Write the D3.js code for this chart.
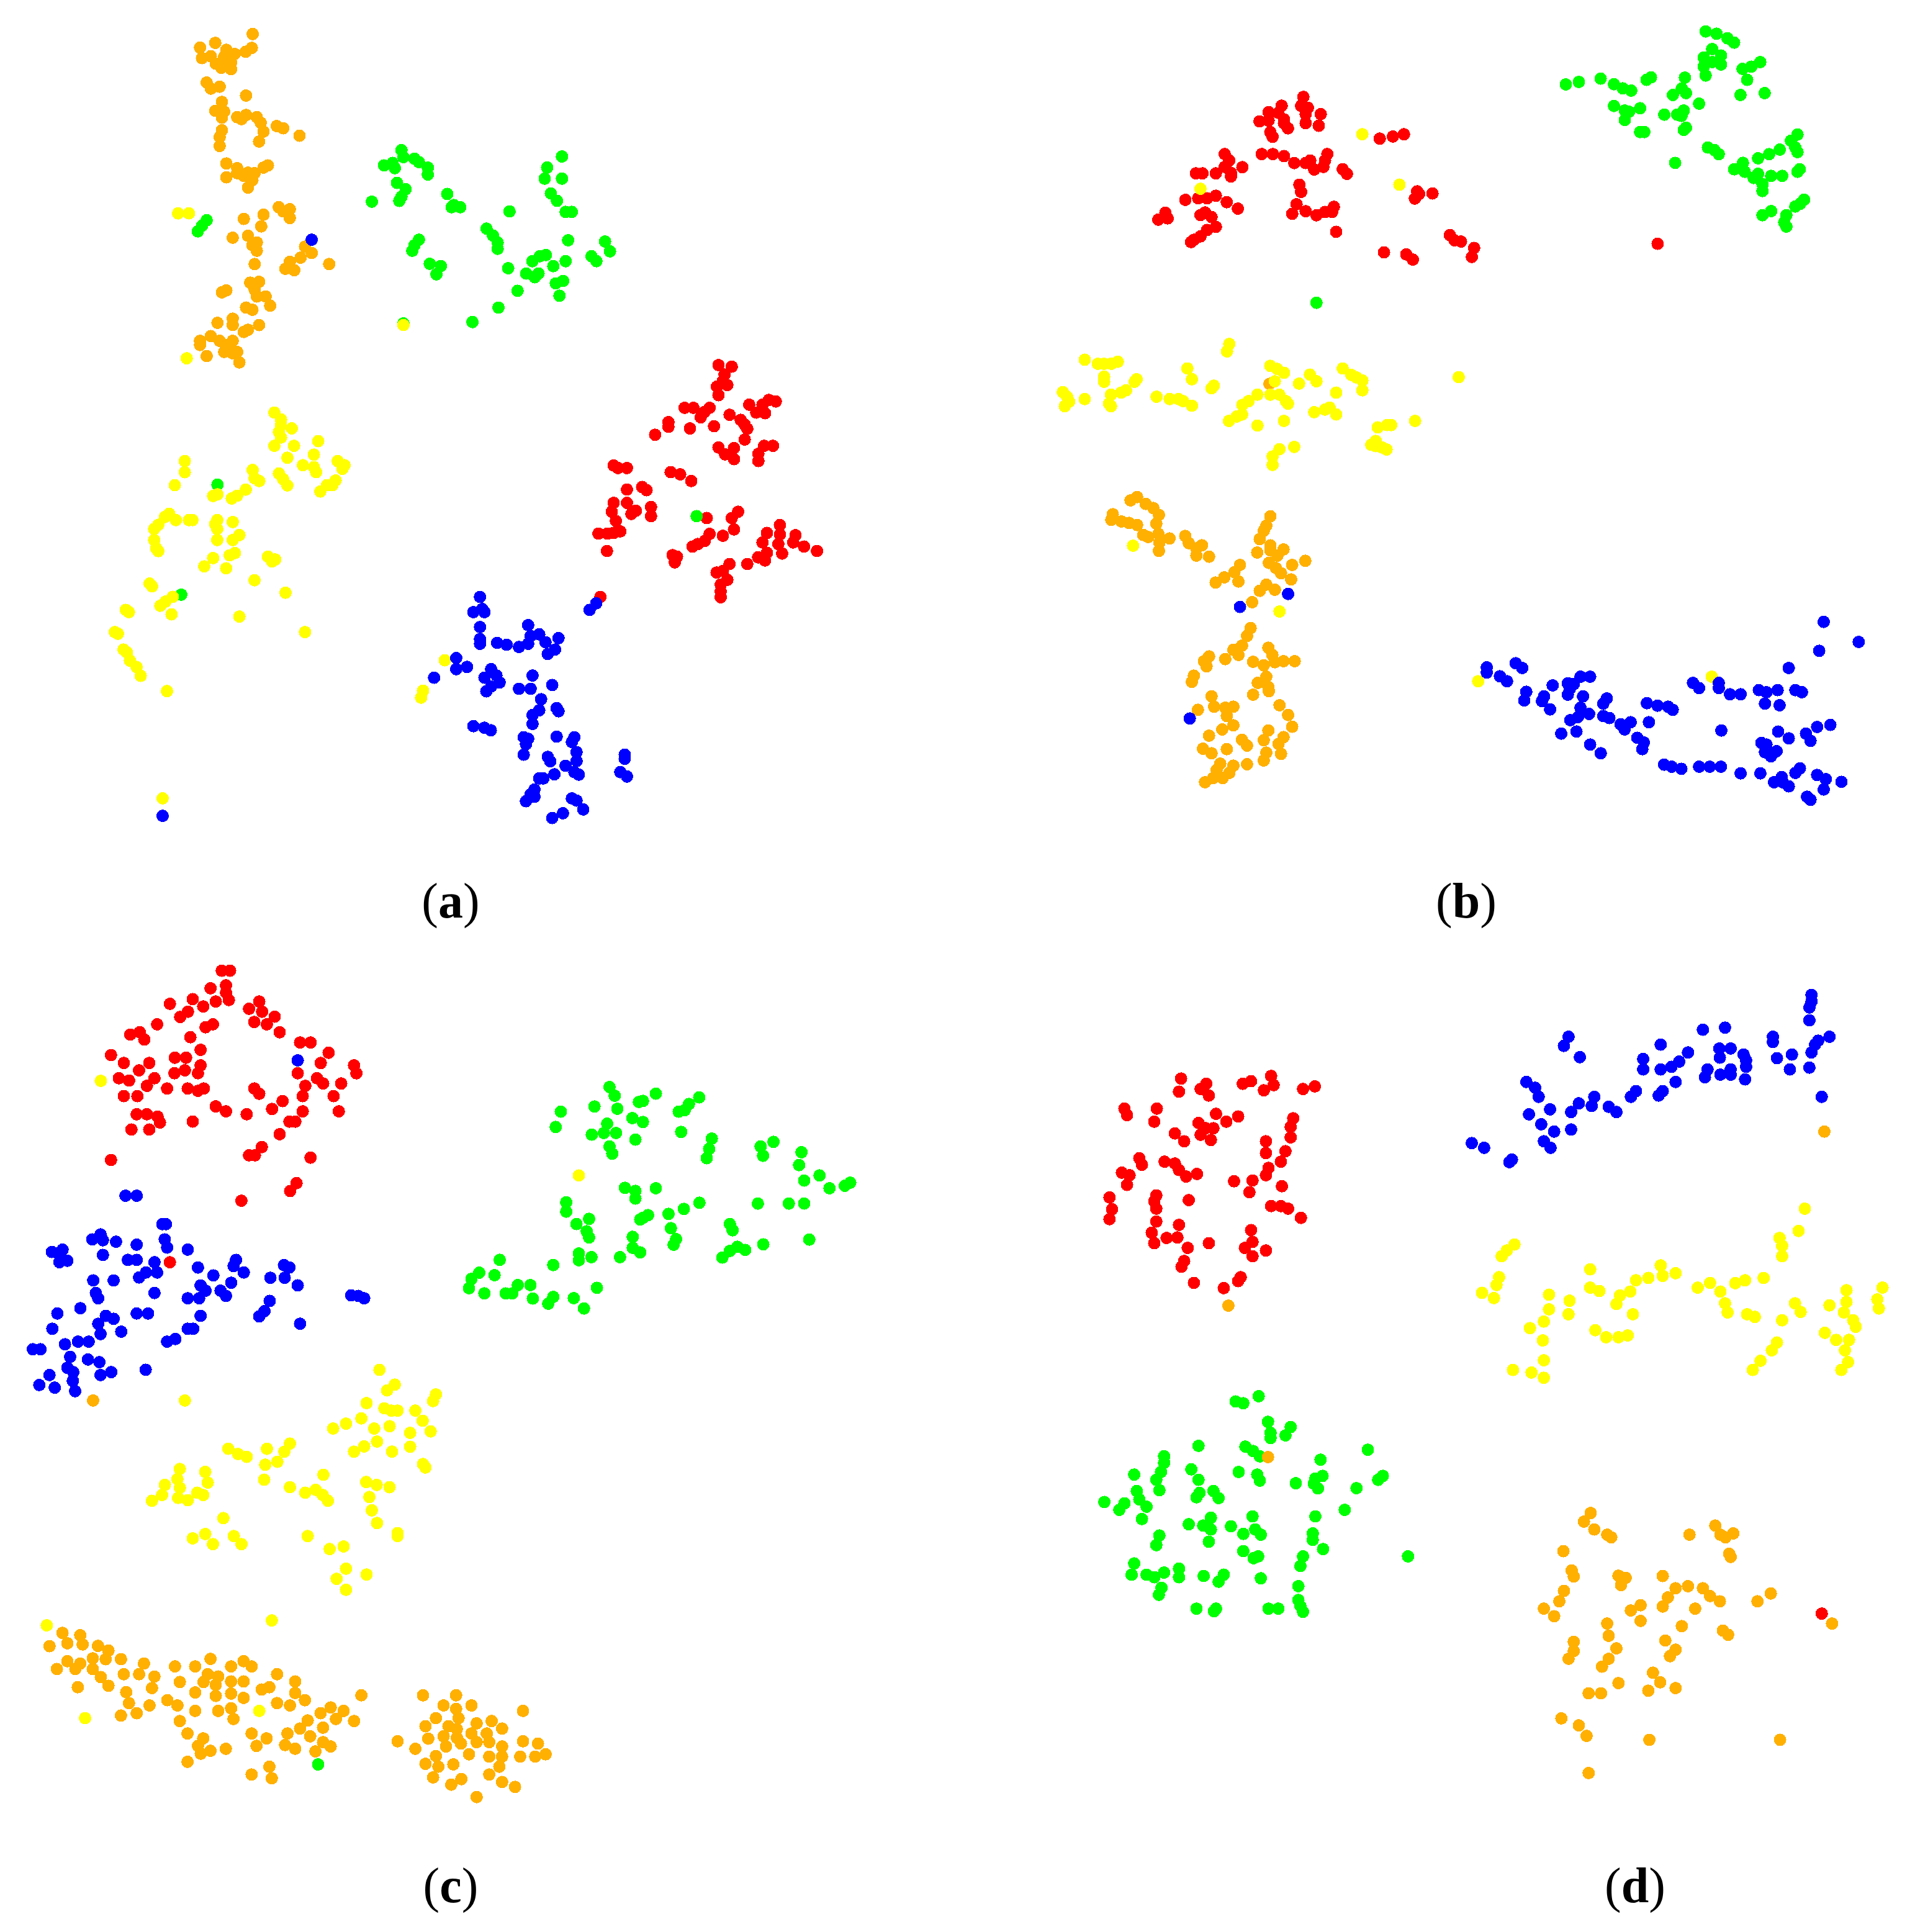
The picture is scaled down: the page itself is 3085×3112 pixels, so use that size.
<!DOCTYPE html>
<html>
<head>
<meta charset="utf-8">
<script src="https://cdn.jsdelivr.net/npm/d3@7"></script>
<style>
  html, body { margin: 0; background: #fff; }
</style>
</head>
<body>
<svg id="chart"></svg>
<script>
const width = 3085, height = 3112;
const RED = "#ff0000", GREEN = "#00ff00", BLUE = "#0000ff", YELLOW = "#ffff00", ORANGE = "#ffb000";

// each list is read off one crop of the picture, so each has its own extent:
// [left, top, width, height, x units, y units]
const whole = [0, 0, 3085, 3112, 1554, 1568];
const a1 = [120, 20, 700, 700, 1568, 1568];
const a2 = [560, 560, 800, 800, 1568, 1568];
const a3 = [160, 640, 500, 700, 1500, 1568];
const b1 = [1680, 130, 720, 650, 1568, 1568];
const b2 = [2400, 30, 560, 400, 1568, 1200];
const b3 = [1760, 780, 1280, 520, 1568, 1560];
const c1 = [30, 1540, 600, 740, 1568, 1568];
const c2 = [730, 1720, 680, 420, 1568, 1260];
const c3 = [40, 2180, 880, 730, 1568, 1568];
const d1 = [1760, 1590, 1300, 660, 1568, 1568];
const d2 = [1760, 2230, 1300, 660, 1568, 1568];

const aOrange = [[643,78],[640,128],[618,142],[508,110],[453,127],[460,165],[492,158],[548,135],[540,160],[578,150],[565,180],[510,185],[530,200],[565,205],[477,253],[492,275],[524,268],[619,300],[532,323],[508,355],[540,358],[532,380],[587,378],[603,385],[619,370],[658,378],[672,398],[682,430],[666,466],[730,410],[753,418],[812,445],[532,425],[524,450],[524,482],[548,545],[587,562],[548,595],[587,580],[611,590],[626,578],[650,580],[642,605],[626,632],[682,560],[698,552],[737,703],[777,710],[753,718],[777,742],[611,745],[682,730],[674,772],[571,813],[626,806],[658,830],[642,840],[658,860],[650,908],[832,845],[856,868],[816,885],[777,900],[761,925],[793,930],[919,908],[666,972],[634,975],[650,1000],[658,1025],[690,1025],[706,1058],[548,1003],[532,1010],[619,1065],[642,1073],[571,1105],[571,1128],[516,1120],[666,1128],[626,1145],[611,1153],[492,1168],[524,1185],[453,1185],[453,1200],[571,1185],[548,1200],[540,1225],[571,1230],[587,1225],[477,1240],[595,1263]];
const aGreen = [[477,750],[460,770],[445,790],[1180,497],[1187,522],[1227,528],[1243,540],[1117,552],[1148,543],[1156,562],[1275,560],[1275,585],[1164,615],[1195,638],[1180,665],[1172,680],[1345,655],[1073,683],[1369,695],[1392,703],[1361,703],[1243,820],[1227,840],[1219,860],[1487,780],[1510,805],[1527,830],[1527,853],[1282,907],[1322,915],[1306,945],[1530,1065],[1436,1117],[1187,1122],[1570,718],[1565,923]];
const aGreenRight = [[444,136],[456,127],[442,145],[456,145],[447,157],[452,163],[459,172],[464,172],[461,195],[443,207],[438,208],[432,212],[449,216],[459,212],[427,222],[434,225],[491,196],[495,204],[480,208],[484,212],[451,230],[457,228],[454,240],[437,222],[420,236]];
const aYellowTop = [[374,725],[413,725],[405,1248],[1187,1128]];
const aBlueTop = [[856,820]];
const aYellow = [[846,55],[878,80],[878,100],[930,112],[868,125],[878,145],[846,175],[941,175],[909,218],[1058,158],[1037,207],[1152,230],[1185,245],[1175,258],[984,245],[1037,252],[1048,270],[868,275],[888,295],[909,318],[741,262],[750,292],[773,302],[1142,300],[1100,317],[1127,317],[1068,340],[708,333],[666,355],[640,365],[413,230],[413,270],[365,317],[571,350],[550,356],[338,420],[317,432],[370,443],[285,460],[265,475],[265,515],[275,545],[285,555],[433,443],[450,443],[570,443],[560,458],[570,475],[570,515],[645,450],[677,497],[645,515],[655,562],[630,570],[550,580],[507,610],[613,617],[815,575],[835,592],[850,585],[750,660],[900,705],[243,672],[255,682],[355,720],[320,737],[295,752],[349,783],[677,791],[128,767],[143,775],[75,847],[90,853],[117,910],[133,920],[148,950],[180,973],[200,1005],[327,1060],[306,1447],[994,847]];
const aGreenLeft = [[571,315],[396,712]];
const aBlueLeft = [[306,1510]];
const aRed = [[1171,55],[1213,60],[1190,85],[1185,105],[1199,118],[1166,123],[1171,150],[1064,190],[1092,190],[1143,190],[1127,203],[1115,220],[1268,180],[1310,180],[1330,165],[1352,170],[1290,205],[1318,207],[1206,212],[1241,228],[1254,243],[1262,256],[1013,235],[1013,250],[1081,255],[1157,248],[971,275],[1254,290],[1171,315],[1192,337],[1220,317],[1220,352],[1343,310],[1315,310],[1297,335],[1297,358],[840,372],[854,380],[882,380],[1020,393],[1050,400],[1085,421],[882,448],[930,440],[944,450],[840,490],[834,518],[847,547],[882,490],[910,515],[896,525],[958,503],[958,532],[1134,538],[1233,518],[1213,538],[1220,574],[1143,588],[1128,610],[1185,594],[1106,620],[1089,628],[1365,560],[1324,585],[1310,615],[1365,590],[1360,620],[1414,592],[1407,615],[1441,628],[1482,642],[1372,650],[1324,648],[1296,662],[1318,672],[1262,683],[861,580],[792,587],[820,587],[840,585],[819,642],[1026,655],[1040,660],[1033,678],[1206,683],[1165,710],[1185,705],[1199,733],[1178,748],[1178,770],[1178,788],[798,787]];
const aGreenInRed = [[1102,532]];
const aBlue = [[785,807],[764,828],[418,787],[397,835],[432,835],[425,825],[418,882],[418,920],[418,935],[570,876],[605,905],[578,910],[625,930],[666,917],[472,932],[502,938],[570,935],[541,945],[655,953],[632,967],[343,980],[377,1008],[343,1015],[453,1015],[432,1042],[470,1035],[480,1057],[453,1070],[438,1085],[273,1042],[584,1035],[541,1077],[578,1077],[646,1065],[611,1110],[605,1145],[584,1160],[660,1138],[666,1148],[584,1188],[397,1195],[432,1200],[452,1208],[556,1230],[570,1235],[563,1252],[660,1228],[716,1230],[708,1245],[556,1285],[632,1292],[640,1306],[723,1277],[723,1305],[688,1320],[875,1285],[875,1298],[861,1340],[882,1354],[653,1347],[605,1360],[618,1360],[716,1340],[730,1348],[590,1395],[578,1410],[590,1418],[563,1432],[708,1423],[723,1430],[744,1458],[680,1470],[646,1485]];
const aYellowInBlue = [[307,987],[238,1083],[232,1105]];

const bRed = [[914,63],[906,98],[930,105],[922,130],[975,130],[838,97],[792,122],[826,125],[760,158],[792,155],[846,150],[860,185],[846,165],[922,165],[968,175],[798,200],[806,218],[1182,225],[1228,217],[1267,208],[638,285],[654,310],[638,335],[700,336],[537,360],[560,360],[607,360],[660,358],[660,372],[768,285],[807,285],[846,293],[998,285],[990,310],[882,320],[938,310],[922,320],[984,335],[952,345],[1052,344],[1067,362],[900,404],[906,432],[1313,430],[1305,458],[1320,440],[1367,438],[500,463],[545,457],[576,457],[607,447],[645,472],[684,497],[430,513],[405,540],[438,535],[553,522],[569,512],[592,530],[607,568],[576,580],[553,605],[530,618],[520,627],[890,480],[875,517],[922,507],[960,523],[990,510],[1021,490],[1015,510],[1029,587],[1197,667],[1275,675],[1298,695],[1428,600],[1444,620],[1467,625],[1513,650],[1505,685]];
const bOrangeUnder = [[795,1178]];
const bYellow = [[1121,208],[553,420],[1251,404],[654,1023],[646,1052],[147,1084],[193,1100],[215,1100],[240,1100],[263,1092],[215,1150],[215,1170],[329,1160],[322,1170],[292,1203],[275,1212],[239,1220],[232,1255],[239,1265],[70,1210],[85,1228],[92,1247],[77,1265],[147,1237],[399,1228],[445,1237],[476,1237],[492,1245],[523,1263],[507,1118],[523,1160],[592,1195],[600,1185],[798,1108],[822,1120],[846,1135],[814,1168],[899,1177],[937,1142],[960,1168],[1052,1118],[1082,1143],[1100,1153],[1121,1165],[1121,1203],[1029,1212],[753,1220],[798,1220],[830,1220],[853,1245],[860,1255],[722,1245],[700,1260],[699,1297],[680,1305],[653,1322],[753,1340],[846,1322],[952,1288],[990,1278],[1006,1270],[1029,1297],[1306,1322],[1459,1152],[1175,1347],[1208,1338],[1222,1338],[1168,1400],[1152,1415],[1168,1420],[1206,1433],[1190,1425],[830,1432],[806,1460],[806,1493],[882,1423]];
const bGreenStray = [[960,863]];
const bGreen = [[974,62],[1023,73],[1072,95],[1102,116],[1003,147],[1043,178],[965,188],[1003,210],[965,232],[1043,222],[974,275],[1140,243],[1180,232],[1220,210],[1161,296],[1131,369],[1240,360],[343,318],[402,306],[500,290],[560,317],[600,337],[638,348],[707,296],[727,284],[880,285],[866,338],[885,360],[826,369],[944,411],[560,422],[609,444],[628,450],[609,490],[678,433],[787,464],[845,464],[875,444],[865,470],[885,527],[875,538],[678,548],[697,548],[984,623],[1013,635],[1033,655],[836,697],[1388,560],[1358,590],[1378,623],[1388,645],[1308,633],[1260,655],[1210,675],[1142,697],[1102,728],[1150,740],[1210,750],[1190,770],[1230,800],[1230,833],[1269,760],[1319,760],[1398,728],[1388,740],[1418,875],[1378,908],[1400,895],[1269,930],[1230,950],[1338,950],[1328,985],[1338,1005]];
const bRedStray = [[757,1088]];
const bOrange = [[88,62],[75,78],[105,95],[120,115],[131,148],[126,190],[40,145],[37,172],[57,180],[72,187],[88,197],[100,245],[110,255],[130,240],[152,262],[132,282],[131,322],[183,250],[190,285],[216,295],[205,310],[205,345],[230,350],[351,155],[343,200],[338,225],[330,265],[351,295],[351,320],[325,330],[377,315],[365,345],[348,380],[362,405],[372,430],[392,460],[394,390],[420,370],[291,390],[280,425],[260,450],[243,475],[288,470],[343,485],[330,515],[360,510],[315,570],[312,695],[305,733],[295,780],[278,800],[288,825],[230,832],[220,855],[225,880],[262,845],[317,858],[347,790],[355,825],[360,860],[377,855],[399,855],[338,875],[343,930],[326,960],[347,980],[317,1017],[348,1000],[200,925],[196,955],[235,1025],[240,1075],[262,1080],[278,1075],[208,1090],[265,1120],[278,1165],[256,1185],[369,1068],[386,1115],[394,1172],[347,1190],[230,1215],[338,1237],[377,1222],[367,1255],[295,1235],[305,1263],[218,1278],[235,1300],[265,1280],[343,1297],[372,1303],[338,1335],[252,1350],[278,1360],[245,1380],[270,1395],[305,1353],[238,1420],[222,1440],[257,1420]];
const bBlue = [[386,530],[291,593],[192,1132],[1443,665],[1512,762],[1434,805],[1374,888],[835,865],[848,888],[778,885],[778,910],[804,928],[818,952],[963,930],[982,930],[908,972],[938,962],[950,965],[942,990],[856,1003],[891,1025],[852,1045],[887,1048],[938,1017],[968,1025],[1015,1035],[1008,1060],[903,1088],[963,1080],[980,1110],[958,1125],[943,1140],[1008,1120],[1020,1130],[1042,1160],[1062,1150],[1050,1185],[1098,1150],[1094,1058],[1115,1070],[1136,1075],[1145,1090],[955,1195],[925,1205],[982,1258],[1003,1300],[1075,1225],[1088,1248],[1085,1280],[1128,1355],[1143,1365],[1162,1375],[1197,1365],[1218,1365],[1240,1365],[1279,1397],[1318,1397],[1185,960],[1197,985],[1236,960],[1236,985],[1258,1015],[1279,1015],[1315,995],[1330,1005],[1352,995],[1387,995],[1400,1005],[1327,1060],[1356,1068],[1241,1190],[1353,1195],[1374,1228],[1430,1173],[1456,1163],[1408,1205],[1417,1240],[1320,1250],[1330,1258],[1327,1295],[1350,1290],[1339,1315],[1396,1373],[1387,1395],[1360,1415],[1345,1440],[1362,1440],[1374,1460],[1430,1405],[1447,1425],[1478,1438],[1443,1475],[1410,1510],[1417,1525]];
const bYellowStray = [[80,297],[369,615],[1222,930],[761,952]];

const cRed = [[855,50],[890,50],[873,100],[873,125],[808,110],[885,150],[830,155],[733,147],[777,172],[637,163],[713,190],[680,208],[1013,155],[970,180],[1025,190],[1078,207],[992,225],[1045,233],[1099,260],[583,233],[818,233],[787,243],[470,268],[510,260],[529,285],[723,277],[766,320],[1185,295],[1229,295],[1305,330],[1272,365],[389,338],[443,365],[550,365],[507,390],[658,347],[705,347],[766,373],[656,400],[700,390],[755,400],[422,417],[465,425],[572,417],[540,443],[1175,400],[1256,417],[1282,435],[1412,373],[1422,400],[1358,435],[1207,443],[1196,478],[1326,478],[625,452],[712,452],[755,460],[780,452],[992,452],[1013,470],[443,478],[500,478],[830,513],[873,530],[1111,495],[1067,522],[1196,530],[1348,530],[960,540],[497,540],[540,540],[585,548],[595,568],[475,592],[550,592],[733,565],[1165,565],[1140,565],[1099,608],[1024,652],[970,680],[995,680],[389,696],[1229,688],[1170,775],[1143,802],[938,835],[637,1045]];
const cBlue = [[1175,356],[450,818],[497,818],[605,915],[620,915],[345,950],[310,967],[355,970],[410,975],[497,985],[615,967],[625,995],[712,1002],[185,1002],[140,1010],[165,1015],[205,1040],[172,1045],[355,1020],[460,1037],[497,1037],[572,1045],[536,1080],[507,1097],[583,1080],[755,1063],[820,1090],[915,1037],[905,1058],[948,1080],[1117,1055],[1140,1063],[1060,1098],[1120,1098],[1175,1124],[314,1107],[400,1107],[325,1150],[335,1168],[572,1150],[766,1124],[787,1142],[895,1115],[850,1142],[873,1160],[712,1168],[760,1168],[260,1202],[163,1220],[1057,1177],[1035,1212],[1013,1230],[1185,1255],[367,1228],[400,1238],[335,1255],[497,1220],[545,1220],[766,1228],[142,1272],[345,1290],[432,1282],[712,1272],[735,1272],[660,1307],[625,1316],[195,1325],[250,1316],[295,1316],[60,1342],[92,1342],[217,1368],[292,1377],[340,1386],[205,1405],[230,1420],[345,1430],[390,1420],[535,1412],[130,1430],[87,1464],[152,1473],[228,1450],[238,1485],[1400,1158],[1455,1168],[1430,1160]];
const cYellowStray = [[346,426],[700,1517]];
const cGreen = [[581,93],[600,135],[610,198],[525,187],[400,212],[381,286],[753,125],[705,160],[690,165],[914,143],[876,175],[838,212],[860,205],[666,243],[705,262],[847,310],[572,270],[515,323],[560,315],[605,315],[677,347],[581,380],[591,415],[961,342],[951,392],[942,437],[1190,358],[1142,380],[1151,425],[1294,408],[1285,470],[1304,545],[1361,520],[1398,582],[1475,555],[1455,570],[638,580],[677,595],[677,632],[753,582],[420,650],[420,695],[505,730],[458,755],[496,790],[505,820],[705,725],[724,712],[695,733],[800,706],[915,652],[857,682],[1028,755],[1038,785],[1132,656],[1247,656],[1304,656],[809,775],[828,828],[819,855],[667,817],[667,870],[695,892],[467,897],[467,930],[514,915],[620,915],[1152,853],[1323,830],[1056,865],[1085,880],[1028,885],[1000,917],[173,928],[372,953],[97,990],[154,1002],[68,1020],[59,1065],[116,1090],[240,1050],[287,1050],[195,1090],[220,1090],[296,1115],[534,1063],[372,1107],[353,1140],[448,1113],[486,1163]];
const cYellowInGreen = [[467,520]];
const cYellow = [[1018,57],[1062,108],[1040,128],[1180,142],[1172,165],[981,172],[1032,190],[1052,198],[1070,198],[1121,198],[1142,233],[1165,270],[966,225],[922,243],[885,260],[1003,260],[1047,252],[1106,275],[1106,323],[1011,305],[974,322],[945,340],[1054,340],[1143,383],[1150,395],[761,312],[745,340],[725,375],[695,330],[690,385],[584,330],[612,348],[637,358],[857,420],[687,437],[761,463],[805,482],[835,472],[855,490],[870,510],[980,445],[1010,455],[1047,463],[989,497],[996,543],[1011,587],[1070,622],[1070,632],[812,632],[570,570],[518,625],[482,640],[540,660],[600,632],[622,660],[445,400],[438,435],[445,465],[518,410],[525,447],[402,455],[394,490],[365,510],[440,500],[468,508],[495,482],[512,490],[875,677],[915,668],[922,745],[895,780],[922,818],[981,765],[709,924],[63,941],[673,1237],[173,1262]];
const cOrange = [[196,163],[108,967],[122,1003],[159,975],[166,1007],[71,1013],[210,1012],[240,1028],[122,1065],[159,1073],[92,1092],[145,1092],[195,1055],[232,1058],[276,1058],[342,1073],[328,1110],[284,1110],[195,1092],[218,1120],[240,1150],[152,1155],[372,1118],[365,1158],[291,1172],[299,1210],[321,1245],[276,1253],[358,1218],[409,1200],[438,1218],[431,1083],[489,1083],[533,1057],[592,1083],[628,1065],[651,1083],[445,1137],[525,1110],[555,1118],[513,1137],[548,1147],[592,1135],[628,1135],[489,1173],[548,1185],[592,1177],[628,1192],[680,1163],[702,1155],[724,1110],[776,1135],[776,1175],[804,1200],[724,1210],[761,1218],[489,1237],[555,1237],[592,1228],[599,1265],[445,1272],[467,1315],[512,1332],[497,1358],[533,1375],[505,1385],[467,1413],[577,1368],[651,1315],[694,1332],[665,1358],[702,1430],[709,1470],[651,1457],[754,1315],[747,1355],[776,1368],[790,1298],[812,1270],[819,1325],[856,1295],[856,1345],[878,1360],[834,1377],[849,1245],[878,1225],[893,1265],[915,1237],[945,1272],[966,1183],[1143,1183],[1238,1183],[1202,1218],[1282,1218],[1238,1230],[1430,1237],[1180,1262],[1150,1290],[1245,1262],[1297,1280],[1340,1272],[1370,1298],[1216,1290],[1240,1300],[1202,1325],[1240,1330],[1282,1315],[1326,1315],[1158,1333],[1070,1342],[1121,1368],[1209,1360],[1252,1350],[1297,1345],[1333,1345],[1370,1360],[1430,1342],[1473,1350],[1275,1387],[1180,1393],[1333,1395],[1370,1395],[1422,1395],[1465,1395],[1495,1387],[1150,1420],[1187,1430],[1230,1422],[1362,1430],[1172,1467],[1333,1457],[1370,1483],[1407,1500],[1253,1473],[1224,1492],[1297,1535]];
const cGreenStray = [[842,1422]];

const dRed = [[172,350],[168,400],[221,370],[210,390],[226,415],[292,370],[308,360],[347,340],[352,375],[333,395],[409,390],[432,380],[62,465],[67,490],[125,465],[120,515],[240,485],[283,495],[260,515],[206,520],[220,540],[235,540],[210,565],[230,585],[390,502],[385,535],[385,575],[160,560],[178,590],[337,590],[337,635],[375,628],[366,668],[91,655],[96,680],[140,668],[160,675],[168,700],[182,725],[203,715],[57,710],[72,720],[67,757],[342,692],[337,720],[275,743],[311,740],[305,785],[368,762],[33,805],[38,850],[33,888],[124,797],[120,820],[124,848],[124,897],[187,815],[347,838],[366,838],[380,848],[405,883],[168,910],[115,940],[120,980],[144,960],[165,958],[185,998],[226,980],[308,930],[311,975],[296,998],[311,1030],[337,1008],[178,1048],[173,1070],[288,1110],[283,1125],[197,1132],[255,1152]];
const dOrangeTop = [[264,1219],[1422,553]];
const dBlue = [[1397,30],[1397,55],[1393,78],[1393,127],[1186,163],[1229,155],[925,190],[916,225],[947,268],[1104,220],[1157,250],[1322,190],[1322,210],[1432,190],[1410,205],[1404,220],[1397,250],[1218,235],[1240,235],[1265,258],[1270,280],[1270,305],[1219,270],[1070,275],[1070,315],[1140,285],[1125,305],[1104,315],[1195,315],[1190,345],[1220,335],[1240,335],[1240,315],[1268,353],[1330,272],[1359,258],[1355,315],[1393,308],[1133,363],[843,363],[860,385],[867,420],[1056,398],[1046,420],[1108,398],[1100,415],[1417,420],[975,420],[945,445],[970,455],[930,478],[1003,458],[1018,478],[889,468],[848,487],[872,525],[897,553],[930,545],[877,590],[890,615],[737,597],[761,615],[815,660],[810,670]];
const dYellow = [[1384,848],[1372,933],[1335,960],[1340,990],[1340,1030],[820,985],[805,1008],[795,1030],[967,1080],[1104,1065],[1108,1105],[1133,1095],[1080,1113],[1056,1122],[790,1110],[785,1140],[757,1170],[780,1190],[967,1150],[985,1163],[887,1177],[927,1200],[887,1233],[925,1252],[1045,1165],[1025,1180],[1018,1213],[1050,1252],[1176,1150],[1200,1132],[1220,1165],[1229,1210],[1234,1245],[1249,1133],[1268,1122],[1304,1113],[1272,1252],[1287,1262],[1340,1275],[1365,1210],[1376,1243],[1432,1218],[1465,1160],[1465,1205],[1460,1245],[1478,1275],[1483,1300],[1535,1150],[1525,1195],[1528,1230],[877,1280],[850,1305],[977,1313],[998,1340],[1022,1340],[1040,1333],[875,1352],[1423,1323],[1445,1350],[1470,1350],[1462,1390],[1330,1360],[1320,1390],[1298,1430],[1283,1465],[1468,1435],[1455,1465],[877,1428],[817,1465],[853,1475],[877,1495]];
const dGreen = [[323,45],[278,65],[293,72],[341,143],[346,185],[346,205],[385,163],[375,195],[206,235],[535,250],[297,238],[312,255],[325,275],[443,288],[139,275],[139,300],[192,325],[284,335],[206,365],[320,345],[325,368],[81,345],[133,335],[124,365],[130,405],[395,378],[447,350],[433,360],[430,380],[438,398],[564,350],[555,365],[513,397],[86,408],[91,440],[105,468],[23,450],[62,455],[52,480],[96,515],[208,415],[235,408],[245,435],[202,432],[490,480],[311,505],[433,505],[187,535],[230,510],[215,540],[230,555],[269,543],[293,572],[316,555],[327,575],[428,570],[428,595],[130,578],[124,615],[226,602],[293,638],[313,665],[322,658],[448,630],[409,658],[404,695],[613,658],[81,685],[76,728],[105,728],[120,738],[139,720],[168,705],[168,738],[216,733],[255,728],[245,755],[327,742],[400,772],[134,778],[129,805],[400,825],[404,848],[409,870],[202,858],[240,858],[236,868],[342,858],[361,858]];
const dOrange = [[341,278],[968,492],[955,525],[975,555],[1000,575],[1008,585],[1160,575],[1210,540],[1220,575],[1230,585],[1245,570],[915,638],[1237,648],[1240,660],[931,712],[935,735],[1022,732],[1036,740],[1027,768],[1108,733],[1157,772],[1133,780],[1186,780],[1200,810],[1219,830],[1118,815],[1108,850],[1318,800],[1292,830],[916,790],[907,830],[877,858],[897,887],[1065,845],[1046,865],[1171,858],[1065,905],[1000,915],[1003,962],[1145,925],[1225,942],[1235,958],[1113,980],[935,985],[935,1020],[925,1050],[1018,1010],[1003,1050],[990,1080],[1133,1015],[1122,1040],[1089,1103],[1103,1140],[1022,1143],[1080,1172],[1133,1162],[964,1182],[988,1182],[911,1278],[945,1305],[960,1345],[1082,1360],[1336,1360],[964,1487],[1437,915]];
const dRedStray = [[1417,877]];

const captions = [
  { label: "a", x: 726, y: 1478 },
  { label: "b", x: 2362, y: 1478 },
  { label: "c", x: 726, y: 3064 },
  { label: "d", x: 2634, y: 3064 },
];

// drawing order matters where dots of two colours touch
const series = [
  [RED, a2, aRed], [RED, b1, bRed], [RED, c1, cRed], [RED, d1, dRed], [RED, b2, bRedStray],
  [ORANGE, a1, aOrange], [ORANGE, b1, bOrangeUnder], [ORANGE, b3, bOrange], [ORANGE, c3, cOrange],
  [ORANGE, d1, dOrangeTop],
  [GREEN, a1, aGreen], [GREEN, whole, aGreenRight], [GREEN, a3, aGreenLeft], [GREEN, a2, aGreenInRed],
  [GREEN, b1, bGreenStray], [GREEN, b2, bGreen], [GREEN, c2, cGreen], [GREEN, c3, cGreenStray], [GREEN, d2, dGreen],
  [ORANGE, d2, dOrange], [RED, d2, dRedStray],
  [YELLOW, a1, aYellowTop], [YELLOW, a3, aYellow], [YELLOW, a2, aYellowInBlue], [YELLOW, b1, bYellow],
  [YELLOW, b3, bYellowStray], [YELLOW, c1, cYellowStray], [YELLOW, c2, cYellowInGreen], [YELLOW, c3, cYellow], [YELLOW, d1, dYellow],
  [BLUE, a1, aBlueTop], [BLUE, a3, aBlueLeft], [BLUE, a2, aBlue], [BLUE, b3, bBlue], [BLUE, c1, cBlue], [BLUE, d1, dBlue],
];

const svg = d3.select("#chart").attr("width", width).attr("height", height).style("display", "block");

series.forEach(([color, extent, points]) => {
  const [left, top, w, h, xUnits, yUnits] = extent;
  const x = d3.scaleLinear().domain([0, xUnits]).range([left, left + w]);
  const y = d3.scaleLinear().domain([0, yUnits]).range([top, top + h]);
  svg.append("g")
    .attr("fill", color)
    .attr("shape-rendering", "crispEdges")
    .selectAll("circle")
    .data(points)
    .enter()
    .append("circle")
    .attr("cx", (d) => x(d[0]))
    .attr("cy", (d) => y(d[1]))
    .attr("r", 10);
});

const text = svg.selectAll(".caption")
  .data(captions)
  .enter()
  .append("text")
  .attr("class", "caption")
  .attr("x", (d) => d.x)
  .attr("y", (d) => d.y)
  .attr("text-anchor", "middle")
  .attr("font-family", "'Liberation Serif', serif")
  .attr("font-size", 80)
  .attr("fill", "#000");
text.append("tspan").text("(");
text.append("tspan").attr("font-weight", "bold").text((d) => d.label);
text.append("tspan").text(")");
</script>
</body>
</html>
